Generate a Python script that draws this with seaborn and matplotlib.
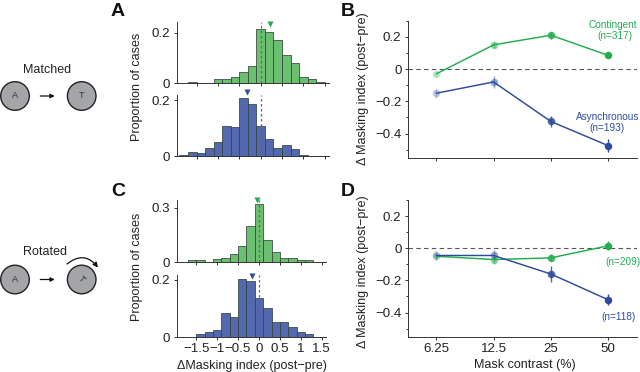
import numpy as np
import pandas as pd
import matplotlib
matplotlib.use("Agg")
import matplotlib.pyplot as plt
from matplotlib.patches import Circle, FancyArrowPatch
import seaborn as sns

sns.set_theme(style="ticks")
plt.rcParams['font.family'] = ['Liberation Sans', 'DejaVu Sans']
plt.rcParams['axes.unicode_minus'] = True

bin_edges = np.linspace(-1.9, 1.7, 19)
bin_centers = (bin_edges[:-1] + bin_edges[1:]) / 2

a_green = [0, .002, 0, 0, .015, .015, .022, .044, .067, .215, .203, .171, .113, .078, .022, .015, .003, .001]
a_blue = [.004, .015, .01, .03, .051, .108, .104, .207, .186, .108, .062, .03, .04, .025, .005, 0, .002, .001]
c_green = [0, .011, .011, .004, .016, .024, .046, .09, .198, .32, .12, .055, .024, .022, .015, .013, .002, 0]
c_blue = [0, 0, .009, .018, .026, .085, .069, .203, .195, .137, .103, .051, .051, .034, .018, .009, 0, 0]

mean_a_green, mean_a_blue, mean_c_green, mean_c_blue = 0.21, -0.32, -0.05, -0.17

contrast = [6.25, 12.5, 25, 50]
contrast_labels = ['6.25', '12.5', '25', '50']
b_green = [-0.03, 0.15, 0.21, 0.085]
b_green_err = [0.012, 0.02, 0.022, 0.012]
b_blue = [-0.15, -0.08, -0.325, -0.475]
b_blue_err = [0.028, 0.035, 0.035, 0.04]
d_green = [-0.05, -0.07, -0.06, 0.015]
d_green_err = [0.02, 0.025, 0.022, 0.028]
d_blue = [-0.045, -0.045, -0.16, -0.32]
d_blue_err = [0.025, 0.035, 0.05, 0.035]
marker_alpha = [0.3, 0.5, 0.85, 1.0]

GREEN_FILL, BLUE_FILL = '#6abf70', '#5468b0'
GREEN_LINE, BLUE_LINE = '#22ad4e', '#2d4b9e'
W, H = 640, 372
fs = 9
tfs = 9.6

fig = plt.figure(figsize=(6.4, 3.72), dpi=100)
ov = fig.add_axes([0, 0, 1, 1], zorder=5)
ov.set_xlim(0, W)
ov.set_ylim(H, 0)
ov.axis('off')


def px_axes(x0, x1, y_top, y_bot):
    return fig.add_axes([x0 / W, 1 - y_bot / H, (x1 - x0) / W, (y_bot - y_top) / H])


def hist(box, vals, fill, ymax, yticks, mean, mean_color, mean_y, show_x=False):
    ax = px_axes(*box)
    sns.histplot(x=bin_centers, weights=vals, bins=len(bin_centers),
                 binrange=(bin_edges[0], bin_edges[-1]), color=fill, alpha=1,
                 edgecolor='#33443a', linewidth=0.55, ax=ax)
    ax.set_xlim(-1.97, 1.6)
    ax.set_ylim(0, ymax)
    ax.axvline(0, color='#666666', lw=0.9, ls=(0, (2, 2)), zorder=6)
    ax.set_xticks([-1.5, -1, -0.5, 0, 0.5, 1, 1.5])
    ax.set_yticks(yticks)
    ax.set_yticklabels(['0'] + [f'{t:g}' for t in yticks[1:]])
    ax.set_ylabel('')
    if show_x:
        ax.set_xticklabels(['\u22121.5', '\u22121', '\u22120.5', '0', '0.5', '1', '1.5'])
    else:
        ax.tick_params(axis='x', labelbottom=False)
    ax.tick_params(axis='both', labelsize=tfs, length=2.5, width=0.7, pad=2, color='#333333', labelcolor='#222222')
    ax.patch.set_alpha(0)
    sns.despine(ax=ax)
    for s in ('left', 'bottom'):
        ax.spines[s].set_linewidth(0.7)
        ax.spines[s].set_color('#333333')
    ax.plot([mean], [mean_y], marker='v', ms=4.5, color=mean_color, mec='none',
            transform=ax.get_xaxis_transform(), clip_on=False, zorder=7, ls='none')
    return ax


hist((176.5, 329, 21.7, 83), a_green, GREEN_FILL, 0.244, [0, 0.2], mean_a_green, GREEN_LINE, 0.97)
ax_ab = hist((176.5, 329, 95, 156.3), a_blue, BLUE_FILL, 0.218, [0, 0.2], mean_a_blue, BLUE_LINE, 1.05)
hist((176.5, 326, 200, 262.3), c_green, GREEN_FILL, 0.342, [0, 0.3], mean_c_green, GREEN_LINE, 1.0)
ax_cb = hist((176.5, 326, 275, 337), c_blue, BLUE_FILL, 0.2175, [0, 0.2], mean_c_blue, BLUE_LINE, 0.99, show_x=True)
ax_cb.set_xlabel('\u0394Masking index (post\u2212pre)', fontsize=fs, color='#222222')
ax_cb.xaxis.set_label_coords(252, 366, transform=ov.transData)
ax_cb.xaxis.label.set_verticalalignment('center')

ax_ab.set_ylabel('Proportion of cases', fontsize=fs, color='#222222')
ax_ab.yaxis.set_label_coords(143, 87, transform=ov.transData)
ax_cb.set_ylabel('Proportion of cases', fontsize=fs, color='#222222')
ax_cb.yaxis.set_label_coords(143, 267, transform=ov.transData)


def curves(box, green, green_err, blue, blue_err, show_x=False):
    ax = px_axes(*box)
    ax.set_xscale('log', base=2)
    ax.axhline(0, color='#555555', lw=0.8, ls=(0, (4, 3)), zorder=1)
    df = pd.DataFrame({'c': contrast * 2, 'v': green + blue,
                       's': ['g'] * 4 + ['b'] * 4})
    sns.lineplot(data=df, x='c', y='v', hue='s', palette={'g': GREEN_LINE, 'b': BLUE_LINE},
                 lw=1.05, legend=False, errorbar=None, ax=ax, zorder=5)
    for ys, es, col in ((green, green_err, GREEN_LINE), (blue, blue_err, BLUE_LINE)):
        for c, y, e, a in zip(contrast, ys, es, marker_alpha):
            ax.errorbar([c], [y], yerr=[e], fmt='o', ms=5.4, color=col, mec='none',
                        elinewidth=1.0, alpha=a, zorder=4, capsize=0)
    ax.set_xlim(6.25 / np.sqrt(2), 50 * np.sqrt(2))
    ax.set_ylim(-0.55, 0.3)
    ax.set_xticks(contrast)
    ax.minorticks_off()
    ax.set_xticklabels(contrast_labels if show_x else [''] * 4)
    ax.set_yticks([-0.4, -0.2, 0, 0.2])
    ax.set_yticklabels(['\u22120.4', '\u22120.2', '0', '0.2'])
    ax.set_yticks(np.arange(-0.5, 0.31, 0.2), minor=True)
    ax.tick_params(axis='both', which='major', labelsize=tfs, length=2.5, width=0.7, pad=2, color='#333333', labelcolor='#222222')
    ax.tick_params(axis='y', which='minor', length=1.8, width=0.7, color='#333333')
    ax.set_xlabel('')
    ax.set_ylabel('\u0394 Masking index (post\u2212pre)', fontsize=fs, color='#222222')
    sns.despine(ax=ax)
    for s in ('left', 'bottom'):
        ax.spines[s].set_linewidth(0.7)
        ax.spines[s].set_color('#333333')
    return ax


ax_b = curves((407.7, 636.7, 20.7, 157.7), b_green, b_green_err, b_blue, b_blue_err)
ax_b.yaxis.set_label_coords(369, 89, transform=ov.transData)
ax_d = curves((407.7, 636.7, 200, 336.7), d_green, d_green_err, d_blue, d_blue_err, show_x=True)
ax_d.yaxis.set_label_coords(369, 272, transform=ov.transData)
ax_d.set_xlabel('Mask contrast (%)', fontsize=fs, color='#222222')
ax_d.xaxis.set_label_coords(525, 365, transform=ov.transData)
ax_d.xaxis.label.set_verticalalignment('center')

# panel letters
for letter, x, y in (('A', 118, 12), ('B', 348, 11), ('C', 118, 192), ('D', 348, 191)):
    ov.text(x, y, letter, fontsize=14, fontweight='bold', color='#111111', ha='center', va='center')

# annotations
ann = 7.2
ov.text(613, 25.5, 'Contingent', color=GREEN_LINE, fontsize=ann, ha='center', va='center')
ov.text(614.5, 36, '(n=317)', color=GREEN_LINE, fontsize=ann, ha='center', va='center')
ov.text(608, 117.5, 'Asynchronous', color=BLUE_LINE, fontsize=ann, ha='center', va='center')
ov.text(607, 128, '(n=193)', color=BLUE_LINE, fontsize=ann, ha='center', va='center')
ov.text(623, 262, '(n=209)', color=GREEN_LINE, fontsize=ann, ha='center', va='center')
ov.text(619, 316.5, '(n=118)', color=BLUE_LINE, fontsize=ann, ha='center', va='center')

# schematic
ov.text(47, 70, 'Matched', fontsize=fs, color='#222222', ha='center', va='center')
ov.text(45, 252, 'Rotated', fontsize=fs, color='#222222', ha='center', va='center')
for cy, rot in ((96, 0), (279.5, -45)):
    for cx, lab, r in ((15, 'A', 0), (81.7, 'T', rot)):
        ov.add_patch(Circle((cx, cy), 14.3, fc='#a3a5a9', ec='#222222', lw=1.0))
        ov.text(cx, cy, lab, fontsize=6.5, color='#333333', ha='center', va='center', rotation=r)
    ov.add_patch(FancyArrowPatch((37.5, cy), (57.5, cy), arrowstyle='-|>', mutation_scale=6, lw=0.9, color='#111111'))
ov.add_patch(FancyArrowPatch((67, 264), (98, 267.5), connectionstyle='arc3,rad=-0.5',
                             arrowstyle='-|>', mutation_scale=7, lw=0.9, color='#111111', shrinkA=0, shrinkB=0))

fig.savefig('out.png', dpi=100)
